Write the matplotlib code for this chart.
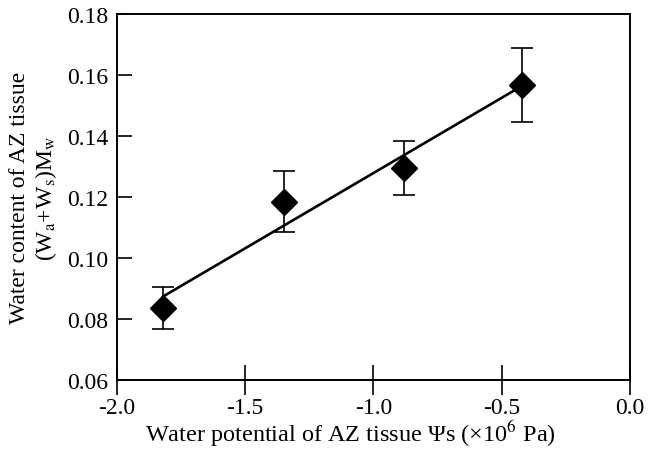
import numpy as np
import matplotlib.pyplot as plt

plt.rcParams['font.family'] = ['Liberation Serif', 'DejaVu Serif']
plt.rcParams['mathtext.fontset'] = 'stix'

# data
psi = np.array([-1.82, -1.35, -0.88, -0.42])
water = np.array([0.0836, 0.1184, 0.1295, 0.1567])
err = np.array([0.007, 0.010, 0.009, 0.012])

xticks = [-2.0, -1.5, -1.0, -0.5, 0.0]
yticks = [0.06, 0.08, 0.10, 0.12, 0.14, 0.16, 0.18]

# linear fit
slope, icpt = np.polyfit(psi, water, 1)
xfit = np.array([psi.min(), psi.max()])

fig = plt.figure(figsize=(6.72, 4.52), dpi=100)
ax = fig.add_axes([0.174, 0.157, 0.7635, 0.81])

ax.plot(xfit, slope * xfit + icpt, color="k", linewidth=1.9, zorder=2)
ax.errorbar(psi, water, yerr=err, fmt="D", color="k", markersize=13,
            capsize=8, elinewidth=1.2, capthick=1.2, zorder=3)

ax.set_xlim(-2.0, 0.0)
ax.set_ylim(0.06, 0.18)
ax.set_xticks(xticks)
ax.set_xticklabels([f"{t:.1f}" for t in xticks])
ax.set_yticks(yticks)
ax.set_yticklabels([f"{t:.2f}" for t in yticks])

ax.tick_params(axis="x", direction="inout", length=22, width=1.2, labelsize=17, pad=1)
ax.tick_params(axis="y", direction="in", length=11, width=1.2, labelsize=17, pad=6)
for s in ax.spines.values():
    s.set_linewidth(1.4)

ax.set_xlabel(r"Water potential of AZ tissue Ψs (×10$^{6}$ Pa)", fontsize=17.5, labelpad=0)
ax.xaxis.label.set_x(0.455)
ax.set_ylabel("Water content of AZ tissue\n"
              r"(W$_\mathrm{a}$+W$_\mathrm{s}$)M$_\mathrm{w}$", fontsize=17,
              labelpad=6, linespacing=1.15)

fig.savefig("out.png", dpi=100)
